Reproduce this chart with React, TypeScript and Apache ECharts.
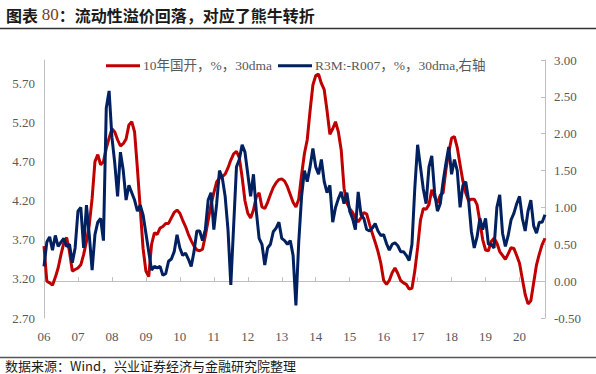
import React, { useEffect, useRef } from "react";
import * as echarts from "echarts";

// monthly categories: Jan 2006 .. Oct 2020
const startYear = 2006;
const monthCount = 178;
const months: string[] = [];
for (let i = 0; i < monthCount; i++) {
  const y = startYear + Math.floor(i / 12);
  const m = (i % 12) + 1;
  months.push(`${y}-${m < 10 ? "0" + m : m}`);
}

const seriesNames = ["10年国开，%，30dma", "R3M:-R007，%，30dma,右轴"];

// 10年国开 yield (left axis)
const cdb10y: number[] = [
  3.62, 3.17, 3.15, 3.12, 3.22, 3.34, 3.51, 3.66, 3.73, 3.55, 3.30, 3.32,
  3.34, 3.38, 3.51, 3.68, 3.89, 4.23, 4.70, 4.79, 4.66, 4.70, 4.87, 5.00,
  5.12, 5.08, 4.98, 4.90, 4.93, 4.99, 5.17, 5.21, 5.08, 4.61, 4.10, 3.59,
  3.30, 3.23, 3.64, 3.79, 3.77, 3.85, 3.87, 3.91, 3.91, 3.98, 4.05, 4.08,
  4.04, 3.95, 3.87, 3.77, 3.69, 3.62, 3.57, 3.56, 3.58, 3.75, 3.95, 4.15,
  4.30, 4.44, 4.49, 4.51, 4.54, 4.62, 4.72, 4.80, 4.83, 4.75, 4.50, 4.20,
  4.04, 3.98, 4.08, 4.25, 4.30, 4.12, 4.10, 4.18, 4.28, 4.37, 4.43, 4.47,
  4.48, 4.45, 4.38, 4.28, 4.18, 4.12, 4.22, 4.53, 4.80, 4.98, 5.35, 5.68,
  5.80, 5.82, 5.70, 5.62, 5.35, 5.05, 5.12, 5.21, 5.08, 4.85, 4.36, 4.17,
  4.10, 4.05, 3.98, 3.93, 3.98, 4.05, 4.03, 3.90, 3.78, 3.67, 3.55, 3.40,
  3.18, 3.13, 3.18, 3.28, 3.34, 3.27, 3.18, 3.15, 3.13, 3.07, 3.08, 3.30,
  3.60, 3.95, 4.10, 4.09, 4.15, 4.34, 4.25, 4.17, 4.27, 4.30, 4.60, 4.82,
  5.00, 5.02, 4.88, 4.66, 4.45, 4.30, 4.20, 4.22, 4.22, 4.15, 3.93, 3.70,
  3.57, 3.56, 3.68, 3.72, 3.66, 3.55, 3.50, 3.45, 3.52, 3.60, 3.59, 3.50,
  3.40, 3.20, 3.00, 2.88, 2.92, 3.15, 3.38, 3.52, 3.64, 3.72,
];

// R3M - R007 spread (right axis)
const r3mSpread: number[] = [
  0.20, 0.53, 0.60, 0.42, 0.62, 0.47, 0.53, 0.58, 0.47, 0.50, 0.25, 0.45,
  0.95, 1.00, 0.45, 1.03, 0.62, 0.15, 0.63, 0.80, 0.85, 0.55, 2.35, 2.58,
  1.95, 1.60, 1.15, 1.75, 1.50, 1.10, 1.30, 1.20, 1.10, 0.95, 1.03, 0.90,
  0.65, 0.40, 0.15, 0.20, 0.18, 0.20, 0.08, 0.10, 0.27, 0.30, 0.40, 0.63,
  0.45, 0.35, 0.38, 0.30, 0.20, 0.40, 0.68, 0.68, 0.55, 0.70, 1.10, 1.20,
  0.70, 1.05, 1.50, 1.40, 1.15, 0.70, -0.05, 0.75, 1.55, 1.65, 1.85, 1.75,
  1.45, 1.15, 1.45, 0.95, 0.58, 0.50, 0.22, 0.45, 0.50, 0.67, 0.72, 0.80,
  0.58, 0.55, 0.50, 0.55, 0.35, -0.33, 0.53, 1.15, 1.50, 1.35, 1.55, 1.80,
  1.55, 1.45, 1.65, 1.35, 1.20, 1.30, 0.80, 1.00, 1.12, 1.21, 1.05, 1.20,
  0.95, 0.85, 0.70, 1.21, 0.90, 0.85, 0.70, 0.68, 0.72, 0.78, 0.68, 0.62,
  0.63, 0.51, 0.42, 0.50, 0.52, 0.48, 0.40, 0.40, 0.35, 0.28, 0.50, 1.26,
  1.85, 1.55, 1.25, 1.05, 1.55, 1.70, 1.20, 0.95, 1.05, 1.35, 1.60, 1.82,
  1.45, 1.65, 1.50, 1.00, 1.30, 1.35, 1.10, 0.67, 0.45, 0.60, 0.85, 0.70,
  0.85, 0.50, 0.50, 0.45, 1.00, 1.17, 0.65, 0.47, 0.62, 0.83, 0.92, 1.05,
  1.15, 0.85, 0.68, 0.95, 1.10, 0.75, 0.65, 0.80, 0.80, 0.90,
];

const leftTicks = [2.7, 3.2, 3.7, 4.2, 4.7, 5.2, 5.7];

const SERIF = "'Liberation Serif', 'DejaVu Serif', 'Noto Sans CJK SC', serif";
const GRAY = "#595959";
const AXIS = "#bfbfbf";

export default function App() {
  const ref = useRef<HTMLDivElement>(null);
  useEffect(() => {
    if (!ref.current) return;
    const chart = echarts.init(ref.current, undefined, { renderer: "svg" });
    const isYearStart = (idx: number) => idx % 12 === 0;
    chart.setOption({
      animation: false,
      backgroundColor: "#ffffff",
      grid: { left: 44, right: 51, top: 60, bottom: 56, containLabel: false },
      legend: {
        left: 101,
        top: 54,
        itemGap: 6,
        icon: "rect",
        itemWidth: 34,
        itemHeight: 3,
        textStyle: { fontFamily: SERIF, fontSize: 13.5, color: GRAY, padding: [0, 0, 0, -2] },
        data: seriesNames,
      },
      xAxis: {
        type: "category",
        data: months,
        boundaryGap: false,
        axisLine: { show: true, lineStyle: { color: AXIS, width: 1 } },
        axisTick: { show: true, inside: true, length: 4, interval: (i: number) => isYearStart(i), lineStyle: { color: AXIS } },
        axisLabel: {
          interval: (i: number) => isYearStart(i),
          formatter: (v: string) => v.slice(2, 4),
          color: GRAY,
          fontFamily: SERIF,
          fontSize: 13,
          margin: 12,
        },
        splitLine: { show: false },
      },
      yAxis: [
        {
          type: "value",
          position: "left",
          min: 2.7,
          max: 6.0,
          axisLine: { show: true, lineStyle: { color: AXIS, width: 1 } },
          axisTick: { show: false, customValues: leftTicks },
          axisLabel: {
            customValues: leftTicks,
            formatter: (v: number) => v.toFixed(2),
            color: GRAY,
            fontFamily: SERIF,
            fontSize: 13,
            margin: 9,
          },
          splitLine: { show: false },
        },
        {
          type: "value",
          position: "right",
          min: -0.5,
          max: 3.0,
          interval: 0.5,
          axisLine: { show: true, lineStyle: { color: AXIS, width: 1 } },
          axisTick: { show: true, inside: true, length: 4, lineStyle: { color: AXIS } },
          axisLabel: {
            formatter: (v: number) => v.toFixed(2),
            color: GRAY,
            fontFamily: SERIF,
            fontSize: 13,
            margin: 9,
          },
          splitLine: { show: false },
        },
      ],
      series: [
        {
          name: seriesNames[0],
          type: "line",
          yAxisIndex: 0,
          data: cdb10y,
          showSymbol: false,
          symbol: "none",
          lineStyle: { color: "#c00000", width: 3 },
          itemStyle: { color: "#c00000" },
          z: 2,
        },
        {
          name: seriesNames[1],
          type: "line",
          yAxisIndex: 1,
          data: r3mSpread,
          showSymbol: false,
          symbol: "none",
          lineStyle: { color: "#002060", width: 3 },
          itemStyle: { color: "#002060" },
          z: 3,
        },
      ],
      graphic: [
        {
          type: "text",
          left: 6,
          top: 6,
          style: {
            text: "{a|图表 }{b|80}{a|：流动性溢价回落，对应了熊牛转折}",
            rich: {
              a: { fontFamily: "'Noto Sans CJK SC', sans-serif", fontWeight: "bold", fontSize: 16, fill: "#1a1a1a" },
              b: { fontFamily: SERIF, fontWeight: "normal", fontSize: 17, fill: "#7a3e10" },
            },
          },
        },
        {
          type: "line",
          shape: { x1: 0, y1: 28.5, x2: 596, y2: 28.5 },
          style: { stroke: "#333333", lineWidth: 1.5 },
        },
        {
          type: "line",
          shape: { x1: 0, y1: 357.5, x2: 596, y2: 357.5 },
          style: { stroke: "#555555", lineWidth: 1.5 },
        },
        {
          type: "text",
          left: 5,
          top: 359,
          style: {
            text: "数据来源：Wind，兴业证券经济与金融研究院整理",
            fontFamily: "'Noto Sans CJK SC', sans-serif",
            fontSize: 13,
            fill: "#1a1a1a",
          },
        },
      ],
    });
    return () => chart.dispose();
  }, []);
  return (
    <div
      ref={ref}
      style={{ position: "fixed", left: 0, top: 0, width: 596, height: 374, background: "#fff" }}
    />
  );
}
